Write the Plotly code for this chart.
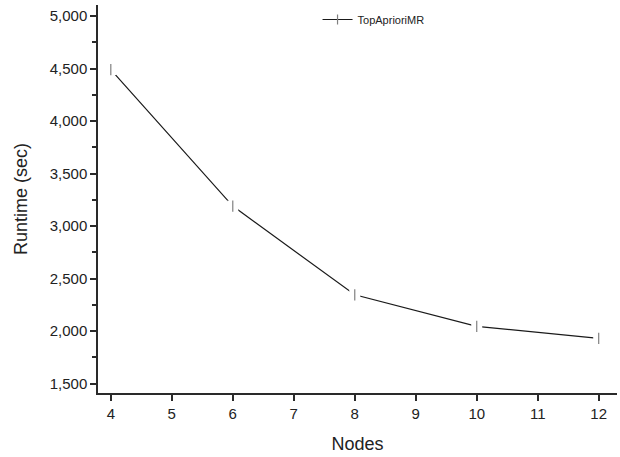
import plotly.graph_objects as go

nodes = [4, 6, 8, 10, 12]
runtime = [4490, 3190, 2345, 2045, 1930]
y_ticks = [1500, 2000, 2500, 3000, 3500, 4000, 4500, 5000]
x_ticks = [4, 5, 6, 7, 8, 9, 10, 11, 12]
series_name = "TopAprioriMR"

FONT = "Liberation Sans, Arial, sans-serif"
AX = "#2a2a2a"

fig = go.Figure()
fig.add_trace(go.Scatter(
    x=nodes, y=runtime, mode="lines+markers", name=series_name,
    line=dict(color="#1a1a1a", width=1.2),
    marker=dict(symbol="line-ns", size=7, line=dict(color="#808080", width=1.2)),
))
# white gaps around markers
fig.add_trace(go.Scatter(
    x=nodes, y=runtime, mode="markers", showlegend=False, hoverinfo="skip",
    marker=dict(symbol="square", size=11, color="white", line=dict(width=0)),
))
fig.add_trace(go.Scatter(
    x=nodes, y=runtime, mode="markers", showlegend=False, hoverinfo="skip",
    marker=dict(symbol="line-ns", size=8, line=dict(color="#808080", width=1.2)),
))

fig.update_layout(
    width=620, height=457,
    margin=dict(l=98, r=3, t=5, b=64),
    paper_bgcolor="white", plot_bgcolor="white",
    font=dict(family=FONT, color="#222222"),
    legend=dict(x=0.423, y=1.0, xanchor="left", yanchor="top",
                font=dict(size=11, family=FONT), bgcolor="rgba(0,0,0,0)"),
    xaxis=dict(
        range=[3.79, 12.30], tickvals=x_ticks, ticks="outside", ticklen=6, tickwidth=1.5,
        tickcolor=AX, showline=True, linecolor=AX, linewidth=1.5, showgrid=False,
        zeroline=False, tickfont=dict(size=15, family=FONT),
        title=dict(text="Nodes", font=dict(size=18, family=FONT), standoff=17),
    ),
    yaxis=dict(
        range=[1410, 5105], tickvals=y_ticks, tickformat=",", ticks="outside", ticklen=6,
        tickwidth=1.5, tickcolor=AX, showline=True, linecolor=AX, linewidth=1.5,
        showgrid=False, zeroline=False, tickfont=dict(size=15, family=FONT),
        minor=dict(tickvals=[1750, 2250, 2750, 3250, 3750, 4250, 4750], ticks="outside",
                   ticklen=4, tickwidth=1.5, tickcolor=AX, showgrid=False),
        title=dict(text="Runtime (sec)", font=dict(size=18, family=FONT), standoff=17),
    ),
)

fig.write_html("out.html")
